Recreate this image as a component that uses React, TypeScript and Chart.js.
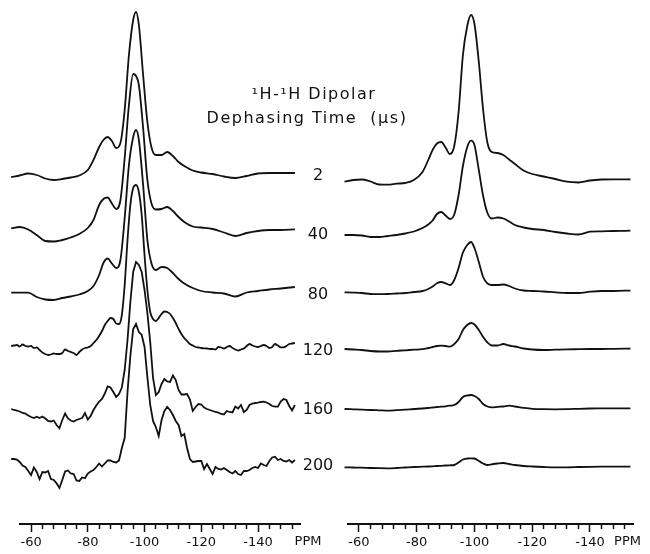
import React, { useEffect, useRef } from 'react';
import { Chart, registerables } from 'chart.js';

Chart.register(...registerables);

// Dephasing times (µs), top to bottom
const dephasingTimes = ['2', '40', '80', '120', '160', '200'];

// Vertical stacking offsets (intensity units) of each trace
const leftOffsets = [349, 295, 233, 178, 116, 62];
const rightOffsets = [344, 291, 232, 175, 115, 57];

// Chemical shift grids (ppm)
const ppmLeftSmooth = [-53, -56, -59, -62, -65, -68, -71, -74, -77, -80, -82, -84, -85.5, -87, -88.5, -90, -91.5, -93, -94.5, -96, -97, -98, -99.5, -101, -102.5, -104, -106, -108, -110, -112, -114, -117, -120, -124, -128, -132, -136, -140, -144, -148, -153];
const ppmLeftNoisy = [-53, -54, -55, -56, -57, -58, -59, -60, -61, -62, -63, -64, -65, -66, -67, -68, -69, -70, -71, -72, -73, -74, -75, -76, -77, -78, -79, -80, -81, -82, -83, -84, -85, -86, -87, -88, -89, -90, -91, -92, -93, -94, -95, -96, -97, -98, -99, -100, -101, -102, -103, -104, -105, -106, -107, -108, -109, -110, -111, -112, -113, -114, -115, -116, -117, -118, -119, -120, -121, -122, -123, -124, -125, -126, -127, -128, -129, -130, -131, -132, -133, -134, -135, -136, -137, -138, -139, -140, -141, -142, -143, -144, -145, -146, -147, -148, -149, -150, -151, -152, -153];
const ppmRight = [-55, -58, -61, -64, -67, -70, -73, -76, -79, -82, -84, -85.5, -87, -88.5, -90, -91.5, -93, -94.5, -96, -97.5, -98.8, -100, -101.5, -103, -104.5, -106, -108, -110, -112, -114, -117, -120, -124, -128, -132, -136, -140, -144, -148, -152, -154];

// Left panel intensities
const left2 = [-2, -0.5, 1.5, 0, -3.5, -5, -4, -2.5, -0.5, 5, 15, 28, 35, 38, 34, 27, 32, 65, 120, 155, 163, 150, 100, 53, 27, 20, 20, 23, 19, 13, 9, 4.5, 2.5, 1, -1.5, -3, -1, 1.5, 2, 2, 2];
const left40 = [0.7, 2, -0.5, -6, -12, -12.5, -11, -8.5, -5, 1, 9, 24, 30, 31.5, 25.5, 20, 29, 71, 124, 155, 153, 144, 101, 49, 25, 19.5, 20, 22, 18, 12, 7, 2.5, 1.5, 0, -3.5, -7, -4, -2, -1, -1, -0.3];
const left80 = [-1.7, -1.7, -1.7, -6, -8.5, -9, -7, -5.5, -3.5, 0, 5, 16, 28, 32.5, 27.5, 23, 31, 73, 126, 154, 161, 151, 106, 51, 27, 21, 24, 23, 18, 12, 7.5, 3, 0, -1.5, -2.5, -5.5, -1.5, 0, 1.5, 2.5, 4];
const left120 = [
  0, 0.5, 1, -0.5, 1.5, 0, -0.5, 0, -2, -1.5,
  -4, -6.5, -8, -9, -8.5, -7.5, -8, -8, -7, -3.5,
  -5, -6, -7, -9, -6, -3.5, -2, -1.5, 0, 3,
  6, 10, 15, 21, 25, 28, 27, 22.5, 22, 31,
  61, 106, 141, 158, 161, 154, 131, 91, 56, 34,
  27, 25, 28, 32, 34.5, 34, 32, 28, 23, 17,
  12, 8, 5, 2, 0.5, -1, -1.5, -2, -2.3, -2.5,
  -3, -3, -3.5, -1, -1.5, -2.5, -1, 0, -2, -3.5,
  -4.5, -3.5, -2.5, 0, 2, 0.5, -0.5, -1, 0, 1,
  0, -2, -1, 2, 0.5, -1.3, -1.3, 0, 2, 2.5,
  3];
const left160 = [
  -1, -2, -2.5, -3.5, -5, -5.5, -7.5, -9, -10, -8.7,
  -10, -8.5, -10.5, -13, -13.5, -12.5, -17, -20.3, -12, -5.5,
  -10.5, -12.5, -13.5, -12, -11, -10, -5, -11.5, -8, -2,
  2.5, 6.5, 9, 14.5, 21.5, 20.5, 16, 11, 14, 20.5,
  38, 68, 106, 136, 146, 143, 136, 118, 95, 66,
  30, 13, 16, 24, 29, 26.5, 26, 32.5, 28, 18,
  13.5, 13.5, 14, 8.5, -3, 1, 4, 3.5, 0.5, -1,
  -2, -3, -4, -4.5, -6, -6.5, -3, -4, -4.5, 1.5,
  -0.5, 3, -4, -2, 3, 4.5, 5, 5.3, 6, 6.3,
  5.5, 4, 2, 1.3, 1.3, 6.5, 9, 8, 2, -2.5,
  3];
const left200 = [
  3, 3, 2.5, 0, -3.5, -5, -9, -13, -5.5, -10,
  -17, -10, -10.5, -9, -17, -18, -21.3, -26, -18, -9.5,
  -8.5, -11.5, -12, -18.5, -19, -15.5, -16.3, -11.5, -9.5, -8,
  -5, -1.5, -4.5, -1.5, 1.5, 1.5, 0, -0.5, 1.5, 14,
  24, 70, 106, 133, 138, 130, 127, 115, 85, 57,
  41, 35, 26, 42, 51, 55, 52, 47, 41, 37,
  26, 28, 14, 3, 0, 0.5, 1, 1, -7, -2,
  -7, -12, -5, -7, -7.5, -6, -8, -10, -11.5, -9,
  -12, -13, -9, -9, -8, -6, -5, -6, -1.5, -3,
  -4, 1, 4.5, 5.3, 2, 3, 1, 0.5, 2, -0.5,
  2];

// Right panel intensities
const right2 = [-1.7, 0, 0.5, -1.5, -4.5, -4.7, -3.7, -3, 0, 8, 20, 30, 36.5, 38, 32.5, 26, 34, 68, 125, 154, 165, 156, 118, 70, 37, 28, 27, 25, 20.5, 16, 9.5, 6, 3.5, 1, -1.7, -2.5, -0.5, 0.5, 0.7, 0.7, 0.7];
const right40 = [-2, -2, -2.5, -4, -4, -3, -2, -0.5, 1.5, 5, 8.5, 12.5, 19, 21, 17.5, 14, 18.5, 38, 67, 86, 92.3, 88, 63, 37, 20, 14.5, 15.5, 14.5, 11.5, 8, 5.5, 4, 3, 1, -0.5, -1.5, 1.3, 1.7, 2, 2.2, 2.3];
const right80 = [-0.3, -0.6, -1, -2, -2.2, -2, -1.5, -1, 0, 1, 3, 5.5, 8.7, 10, 8.7, 7, 12, 24, 39.5, 47, 50, 44, 30, 15, 8.5, 7, 7, 7.5, 6, 3.5, 1.5, 1, 0.5, -0.3, -1, -1, 0.3, 1, 1, 1.3, 1.3];
const right120 = [0, -0.5, -1, -2, -2.5, -2.5, -1.8, -1.3, -0.7, -0.2, 1, 2, 3, 3.3, 3, 2.3, 5, 10, 19, 24, 26, 24.5, 19, 12, 6.5, 3.5, 3.5, 5, 3.5, 2.5, 0.5, -0.5, -1, -0.7, -0.4, -0.2, 0, 0, 0.2, 0.3, 0.3];
const right160 = [0, -0.3, -0.6, -1, -1.3, -1.6, -1.2, -0.7, 0, 0.5, 1, 1.5, 2, 2.3, 2.7, 3.3, 4, 7, 12, 13.5, 14, 13, 10, 5, 2.5, 1.7, 2.2, 2.5, 3.3, 2.5, 1.2, 0.2, -0.2, -0.3, -0.2, 0.2, 0.5, 0.6, 0.7, 0.7, 0.7];
const right200 = [-0.3, -0.5, -0.7, -1, -1.2, -1.3, -1, -0.5, 0, 0.3, 0.5, 0.7, 1, 1.2, 1.5, 1.7, 2, 4.5, 7.5, 8.5, 8.7, 8.5, 6, 3.5, 2, 2.7, 3.5, 4, 3, 2, 1, 0.5, 0, -0.3, -0.3, 0, 0.2, 0.3, 0.3, 0.3, 0.3];

const titleLine1 = '\u00B9H-\u00B9H Dipolar';
const titleLine2 = 'Dephasing Time  (\u03BCs)';
const unitLabel = 'PPM';

const INK = '#111';
const FONT = '"DejaVu Sans", sans-serif';

function makeTrace(xs: number[], ys: number[], offset: number, smooth: boolean) {
  return {
    data: xs.map((x, i) => ({ x, y: offset + ys[i] })),
    borderColor: INK,
    borderWidth: 1.8,
    pointRadius: 0,
    fill: false,
    clip: false as any,
    cubicInterpolationMode: smooth ? ('monotone' as const) : ('default' as const),
    tension: smooth ? 0.4 : 0,
  };
}

function xScale(min: number, max: number) {
  return {
    type: 'linear' as const,
    reverse: true,
    min,
    max,
    afterFit: (s: any) => {
      s.height = 30;
    },
    border: { display: true, color: INK, width: 2 },
    grid: {
      display: true,
      drawOnChartArea: false,
      drawTicks: true,
      tickLength: 8,
      tickWidth: 1.5,
      tickColor: INK,
    },
    ticks: {
      stepSize: 4,
      includeBounds: false,
      autoSkip: false,
      maxRotation: 0,
      minRotation: 0,
      padding: 3,
      color: INK,
      font: { family: FONT, size: 13 },
      callback: (v: any) => (Math.round(Number(v)) % 20 === 0 ? String(Math.round(Number(v))) : ''),
    },
  };
}

// Shortens the unlabelled ticks (white-out of their lower half) and writes the unit label
function axisPlugin(dx: number) {
  return {
    id: 'axisMarks',
    afterDraw(chart: any) {
      const ctx = chart.ctx;
      const xs = chart.scales.x;
      ctx.save();
      ctx.fillStyle = '#fff';
      xs.ticks.forEach((t: any) => {
        const v = Math.round(t.value);
        if (v % 20 !== 0) {
          const px = xs.getPixelForValue(t.value);
          ctx.fillRect(px - 2, xs.top + 5, 4, 5);
        }
      });
      ctx.fillStyle = INK;
      ctx.font = '13px ' + FONT;
      ctx.textAlign = 'center';
      ctx.textBaseline = 'middle';
      ctx.fillText(unitLabel, chart.chartArea.right + dx, xs.top + 18);
      ctx.restore();
    },
  };
}

const labelPlugin = {
  id: 'traceLabels',
  afterDraw(chart: any) {
    const ctx = chart.ctx;
    ctx.save();
    ctx.fillStyle = INK;
    ctx.textAlign = 'center';
    ctx.textBaseline = 'alphabetic';
    ctx.font = '16px ' + FONT;
    const baselines = [180, 239, 299, 355, 414, 470];
    dephasingTimes.forEach((t, i) => ctx.fillText(t, 318, baselines[i]));
    ctx.restore();
  },
};

export default function App() {
  const leftRef = useRef<HTMLCanvasElement>(null);
  const rightRef = useRef<HTMLCanvasElement>(null);

  useEffect(() => {
    const leftSeries = [left2, left40, left80, left120, left160, left200];
    const leftGrids = [ppmLeftSmooth, ppmLeftSmooth, ppmLeftSmooth, ppmLeftNoisy, ppmLeftNoisy, ppmLeftNoisy];
    const leftSmooth = [true, true, true, true, false, false];
    const rightSeries = [right2, right40, right80, right120, right160, right200];

    const common = (padding: any, min: number, max: number) => ({
      responsive: false,
      animation: false as const,
      events: [],
      layout: { padding },
      plugins: { legend: { display: false }, tooltip: { enabled: false } },
      scales: {
        x: xScale(min, max),
        y: { display: false, min: 0, max: 524 },
      },
    });

    const leftChart = new Chart(leftRef.current!, {
      type: 'line',
      data: {
        datasets: leftSeries.map((s, i) => makeTrace(leftGrids[i], s, leftOffsets[i], leftSmooth[i])) as any,
      },
      options: common({ left: 20, right: 25, top: 0, bottom: 0 }, -154.8, -56.1) as any,
      plugins: [axisPlugin(8)],
    });

    const rightChart = new Chart(rightRef.current!, {
      type: 'line',
      data: {
        datasets: rightSeries.map((s, i) => makeTrace(ppmRight, s, rightOffsets[i], true)) as any,
      },
      options: common({ left: 23, right: 17, top: 0, bottom: 0 }, -154.9, -56.2) as any,
      plugins: [axisPlugin(-5.5)],
    });

    return () => {
      leftChart.destroy();
      rightChart.destroy();
    };
  }, []);

  const titleStyle: React.CSSProperties = {
    position: 'absolute',
    width: 300,
    textAlign: 'center',
    font: '16px ' + FONT,
    lineHeight: '16px',
    letterSpacing: '1.5px',
    color: INK,
    whiteSpace: 'pre',
  };

  return (
    <div style={{ position: 'fixed', left: 0, top: 0, width: 650, height: 554, background: '#fff' }}>
      <canvas ref={leftRef} width={325} height={554} style={{ position: 'absolute', left: 0, top: 0 }} />
      <canvas ref={rightRef} width={325} height={554} style={{ position: 'absolute', left: 325, top: 0 }} />
      <div style={{ ...titleStyle, left: 314 - 150, top: 86 }}>{titleLine1}</div>
      <div style={{ ...titleStyle, left: 307 - 150, top: 110 }}>{titleLine2}</div>
      <div style={{ position: 'absolute', left: 0, top: 0, width: 650, height: 554, pointerEvents: 'none' }}>
        {dephasingTimes.map((t, i) => (
          <div
            key={t}
            style={{
              position: 'absolute',
              left: 318 - 30,
              width: 60,
              textAlign: 'center',
              top: [180, 239, 299, 355, 414, 470][i] - 13.5,
              font: '16px ' + FONT,
              lineHeight: '16px',
              color: INK,
            }}
          >
            {t}
          </div>
        ))}
      </div>
    </div>
  );
}
